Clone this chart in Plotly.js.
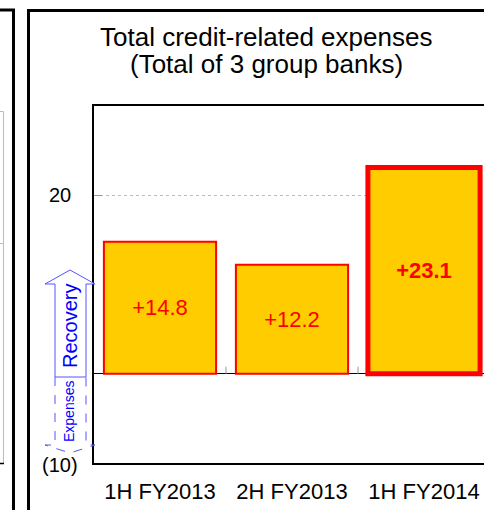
<!DOCTYPE html>
<html>
<head>
<meta charset="utf-8">
<script src="https://cdn.plot.ly/plotly-3.0.1.min.js"></script>
<style>html,body{margin:0;padding:0;background:#fff;}#chart{width:484px;height:510px;}</style>
</head>
<body>
<div id="chart"></div>
<script>
// ---- data ----
const categories = ['1H FY2013', '2H FY2013', '1H FY2014'];
const values = [14.8, 12.2, 23.1];
const highlightIndex = 2;
const yTickVals = [20, -10];
const yTickText = ['20', '(10)'];
const titleLines = ['Total credit-related expenses', '(Total of 3 group banks)'];
const arrowLabels = ['Recovery', 'Expenses'];

// ---- layout geometry (pixels) ----
const W = 484, H = 510;
const L = 94, R = 0, T = 106, B = 47;
const plotW = W - L - R, plotH = H - T - B;
const catPx = 132;
const px = x => (x - L) / plotW;
const py = y => (H - B - y) / plotH;
const FONT = 'Arial, "Liberation Sans", sans-serif';

const texts = values.map((v, i) => {
  const s = (v >= 0 ? '+' : '') + v.toFixed(1);
  return i === highlightIndex ? '<b>' + s + '</b>' : s;
});

const trace = {
  type: 'bar',
  x: categories,
  y: values,
  width: 0.85,
  marker: {
    color: '#ffcc00',
    line: { color: '#ff0000', width: values.map((v, i) => i === highlightIndex ? 5 : 2) }
  },
  text: texts,
  textposition: 'inside',
  insidetextanchor: 'middle',
  textangle: 0,
  constraintext: 'none',
  textfont: { family: FONT, size: 22, color: '#ff0000' },
  hoverinfo: 'skip'
};

const shapes = [];
// category separator ticks at the zero line
for (let i = 0; i < categories.length - 1; i++) {
  shapes.push({ type: 'line', xref: 'x', yref: 'y', x0: i + 0.5, x1: i + 0.5, y0: 0, y1: 0.8,
    line: { color: '#999', width: 1 } });
}
// Recovery arrow (solid)
const rec = [[55,377],[55,284],[45,284],[70,270],[95,284],[86,284],[86,377]];
shapes.push({ type: 'path', xref: 'paper', yref: 'paper', layer: 'above',
  path: 'M' + rec.map(p => px(p[0]) + ',' + py(p[1])).join(' L') + ' Z',
  fillcolor: '#ffffff', line: { color: '#5555ff', width: 1 } });
// Expenses arrow (dashed)
const exp = [[55,377],[55,445],[45,445],[70,453],[95,445],[86,445],[86,377]];
shapes.push({ type: 'path', xref: 'paper', yref: 'paper', layer: 'above',
  path: 'M' + exp.map(p => px(p[0]) + ',' + py(p[1])).join(' L'),
  line: { color: '#5555ff', width: 1, dash: 'dash' } });
// panel borders
const blk = { color: '#000', width: 3 };
shapes.push({ type: 'line', xref: 'paper', yref: 'paper', x0: px(13.5), x1: px(13.5), y0: py(9), y1: py(520), line: blk });
shapes.push({ type: 'line', xref: 'paper', yref: 'paper', x0: px(-5), x1: px(15), y0: py(10), y1: py(10), line: blk });
shapes.push({ type: 'line', xref: 'paper', yref: 'paper', x0: px(28.5), x1: px(28.5), y0: py(9), y1: py(520), line: blk });
shapes.push({ type: 'line', xref: 'paper', yref: 'paper', x0: px(27), x1: px(490), y0: py(10.5), y1: py(10.5), line: blk });
// left neighbour panel remnants
const gry = { color: '#bbb', width: 1 };
shapes.push({ type: 'line', xref: 'paper', yref: 'paper', x0: px(-2), x1: px(3.5), y0: py(111.5), y1: py(111.5), line: gry });
shapes.push({ type: 'line', xref: 'paper', yref: 'paper', x0: px(3.5), x1: px(3.5), y0: py(111.5), y1: py(463), line: gry });
shapes.push({ type: 'line', xref: 'paper', yref: 'paper', x0: px(-2), x1: px(3.5), y0: py(243.5), y1: py(243.5), line: gry });
shapes.push({ type: 'line', xref: 'paper', yref: 'paper', x0: px(-2), x1: px(4), y0: py(463.5), y1: py(463.5), line: { color: '#000', width: 1.5 } });

const annotations = [];
// title lines
annotations.push({ xref: 'paper', yref: 'paper', x: px(266), y: py(37), xanchor: 'center', yanchor: 'middle',
  text: titleLines[0], showarrow: false, font: { family: FONT, size: 26, color: '#000' } });
annotations.push({ xref: 'paper', yref: 'paper', x: px(266), y: py(64), xanchor: 'center', yanchor: 'middle',
  text: titleLines[1], showarrow: false, font: { family: FONT, size: 26, color: '#000' } });
// y tick labels (centre aligned as in the reference)
yTickVals.forEach((v, i) => {
  annotations.push({ xref: 'paper', yref: 'y', x: px(60), y: v, xanchor: 'center', yanchor: 'middle',
    yshift: v < 0 ? -2 : 0,
    text: yTickText[i], showarrow: false, font: { family: FONT, size: 20, color: '#000' } });
});
// arrow labels
annotations.push({ xref: 'paper', yref: 'paper', x: px(70), y: py(326), xanchor: 'center', yanchor: 'middle',
  text: arrowLabels[0], textangle: -90, showarrow: false, font: { family: FONT, size: 20, color: '#0000ff' } });
annotations.push({ xref: 'paper', yref: 'paper', x: px(69), y: py(412), xanchor: 'center', yanchor: 'middle',
  text: arrowLabels[1], textangle: -90, showarrow: false, font: { family: FONT, size: 14, color: '#0000ff' } });

const layout = {
  width: W, height: H,
  margin: { l: L, r: R, t: T, b: B, pad: 0, autoexpand: false },
  paper_bgcolor: '#ffffff',
  plot_bgcolor: '#ffffff',
  showlegend: false,
  font: { family: FONT, color: '#000' },
  xaxis: {
    type: 'category',
    range: [-0.5, -0.5 + plotW / catPx],
    showline: true, mirror: true, linecolor: '#000', linewidth: 2,
    ticks: '', showgrid: false, zeroline: false,
    tickfont: { family: FONT, size: 22, color: '#000' },
    ticklabelstandoff: 8,
    automargin: false, fixedrange: true
  },
  yaxis: {
    range: [-10, 30],
    tickvals: yTickVals,
    showticklabels: false,
    ticks: 'inside', ticklen: 8, tickcolor: '#999', tickwidth: 1,
    showline: true, linecolor: '#000', linewidth: 2, mirror: false,
    showgrid: true, gridcolor: '#bbbbbb', gridwidth: 1, griddash: 'dot',
    zeroline: true, zerolinecolor: '#000', zerolinewidth: 1,
    automargin: false, fixedrange: true
  },
  shapes: shapes,
  annotations: annotations
};

Plotly.newPlot('chart', [trace], layout, { displayModeBar: false, staticPlot: true });
</script>
</body>
</html>
